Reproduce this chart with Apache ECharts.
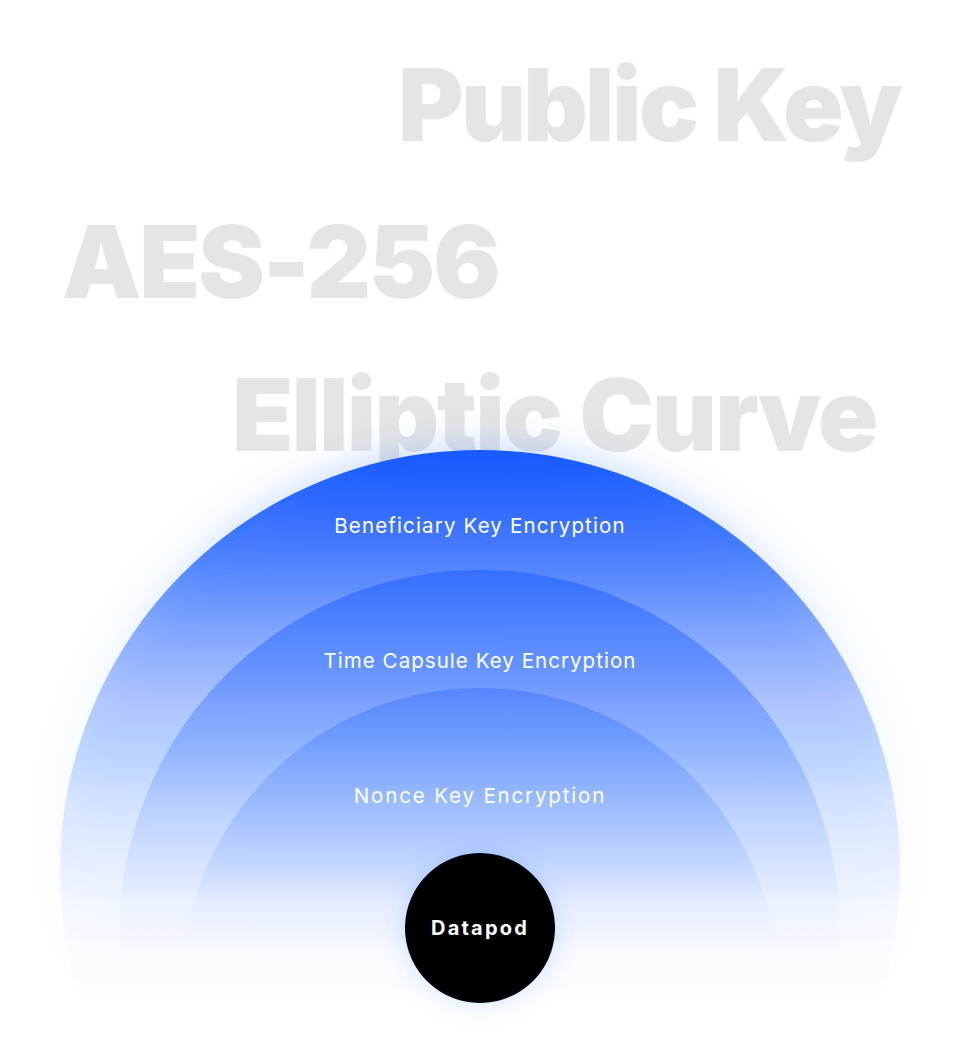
<!DOCTYPE html>
<html>
<head>
<meta charset="utf-8">
<title>Datapod encryption layers</title>
<script src="https://cdn.jsdelivr.net/npm/echarts@6/dist/echarts.min.js"></script>
<style>
  html, body { margin: 0; padding: 0; background: #fff; }
  #main { width: 960px; height: 1050px; }
</style>
</head>
<body>
<div id="main"></div>
<script>
// data
var layerNames = ['Beneficiary Key Encryption', 'Time Capsule Key Encryption', 'Nonce Key Encryption'];
var coreName = 'Datapod';
var backdropWords = ['Public Key', 'AES-256', 'Elliptic Curve'];

// layout
var cx = 480;
var ringTop = [450, 570, 688];
var ringRadius = [420, 360, 298];
var labelOffset = [75, 90, 107];
var coreRadius = 75, coreY = 928;
var wordPos = [[398, 104], [62, 261], [232, 414]];

// letter spacing (svg text), by text
var labelSpacing = [1.15, 1.05, 1.85];
var wordSpacing = [-2.7, -2.3, -1.9];
var coreSpacing = 2.2;

// alpha fade of each ring, top -> bottom
var fades = [
  [[0, 1], [0.07, 0.86], [0.14, 0.68], [0.18, 0.56], [0.22, 0.46], [0.3, 0.3], [0.42, 0.14], [0.54, 0.04], [0.66, 0]],
  [[0, 0.5], [0.083, 0.42], [0.17, 0.34], [0.32, 0.15], [0.46, 0.03], [0.54, 0]],
  [[0, 0.3], [0.104, 0.21], [0.263, 0.12], [0.356, 0.03], [0.44, 0]]
];

function fade(stops) {
  return new echarts.graphic.LinearGradient(0, 0, 0, 1, stops.map(function (s) {
    return { offset: s[0], color: 'rgba(20,89,255,' + s[1] + ')' };
  }));
}

var ringData = layerNames.map(function (name, i) {
  var r = ringRadius[i];
  return {
    name: name,
    value: [cx, ringTop[i] + r],
    symbolSize: 2 * r,
    itemStyle: {
      color: fade(fades[i]),
      opacity: 1,
      shadowBlur: i === 0 ? 40 : 0,
      shadowColor: 'rgba(20,89,255,0.28)'
    },
    label: { position: ['50%', labelOffset[i]] }
  };
});

var chart = echarts.init(document.getElementById('main'), null, { renderer: 'svg' });

var option = {
  animation: false,
  backgroundColor: '#fff',
  grid: { left: 0, right: 0, top: 0, bottom: 0 },
  xAxis: { type: 'value', min: 0, max: 960, show: false },
  yAxis: { type: 'value', min: 0, max: 1050, inverse: true, show: false },
  graphic: backdropWords.map(function (w, i) {
    return {
      type: 'text',
      z: 0,
      silent: true,
      style: {
        text: w,
        x: wordPos[i][0],
        y: wordPos[i][1],
        font: '900 100px Inter',
        fill: '#e5e5e5',
        textAlign: 'left',
        textVerticalAlign: 'middle'
      }
    };
  }),
  series: [
    {
      type: 'scatter',
      symbol: 'circle',
      clip: false,
      silent: true,
      data: ringData,
      label: {
        show: true,
        formatter: '{b}',
        align: 'center',
        verticalAlign: 'middle',
        color: '#fff',
        fontFamily: 'Inter',
        fontSize: 20.5,
        fontWeight: 400
      },
      emphasis: { disabled: true }
    },
    {
      type: 'scatter',
      symbol: 'circle',
      clip: false,
      silent: true,
      data: [{ name: coreName, value: [cx, coreY], symbolSize: 2 * coreRadius }],
      itemStyle: {
        color: '#000',
        opacity: 1,
        shadowBlur: 24,
        shadowColor: 'rgba(20,89,255,0.18)'
      },
      label: {
        show: true,
        position: 'inside',
        formatter: '{b}',
        color: '#fff',
        fontFamily: 'Inter',
        fontSize: 20,
        fontWeight: 700
      },
      emphasis: { disabled: true }
    }
  ]
};

chart.setOption(option);

var spacingByText = {};
layerNames.forEach(function (n, i) { spacingByText[n] = labelSpacing[i]; });
backdropWords.forEach(function (w, i) { spacingByText[w] = wordSpacing[i]; });
spacingByText[coreName] = coreSpacing;

function spaceLetters() {
  var texts = document.querySelectorAll('#main text');
  for (var i = 0; i < texts.length; i++) {
    var s = spacingByText[texts[i].textContent];
    if (s !== undefined) texts[i].setAttribute('letter-spacing', s + 'px');
  }
}
spaceLetters();
chart.on('finished', spaceLetters);
</script>
</body>
</html>
